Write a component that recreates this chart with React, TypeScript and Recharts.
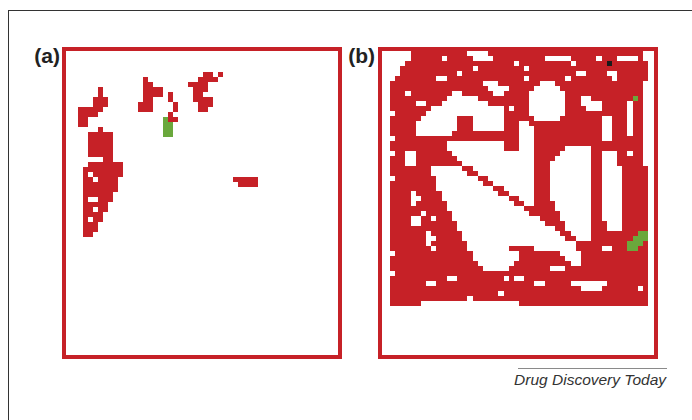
import React from 'react';
import { ScatterChart, Scatter, XAxis, YAxis } from 'recharts';

// Lattice size (cells)
const GRID_COLS = 50;
const GRID_ROWS = 51;

// Panel (a): '#' red cell, 'g' green cell, '.' empty (groups of 10 columns)
const PANEL_A_ROWS: string[] = [
  ".......... .......... .......... ..........",
  ".......... .......... .......... ..........",
  ".......... .......... .......... ..........",
  ".......... .......... .......... ..........",
  ".......... .......... .....##.#. ..........",
  ".......... ...#...... ....####.. ..........",
  ".......... ...##..... ..####.... ..........",
  "....#..... ...####... ...###.... ..........",
  "....#..... ...####.#. ...##..... ..........",
  "...###.... ...##...#. ...####... ..........",
  "...###.... ..###....# ....###... ..........",
  "#####..... ..###....# ....##.... ..........",
  "####...... ........#. .......... ..........",
  "##........ .......g## .......... ..........",
  "##........ .......gg. .......... ..........",
  "....#..... .......gg. .......... ..........",
  "..#####... .......gg. .......... ..........",
  "..#####... .......... .......... ..........",
  "..#####... .......... .......... ..........",
  "..#####... .......... .......... ..........",
  "..#####... .......... .......... ..........",
  ".....##... .......... .......... ..........",
  "..#######. .......... .......... ..........",
  ".########. .......... .......... ..........",
  ".#.######. .......... .......... ..........",
  ".##.####.. .......... .......... .#####....",
  ".#######.. .......... .......... ..####....",
  ".#######.. .......... .......... ..........",
  ".######... .......... .......... ..........",
  ".#..###... .......... .......... ..........",
  ".#####.... .......... .......... ..........",
  ".##.##.... .......... .......... ..........",
  ".####..... .......... .......... ..........",
  ".#.##..... .......... .......... ..........",
  ".###...... .......... .......... ..........",
  ".###...... .......... .......... ..........",
  ".##....... .......... .......... ..........",
];

// Panel (b): '#' red, 'g' green, 'k' black, '.' empty
const PANEL_B_ROWS: string[] = [
  "....###### #####....# ########## ########## #########.",
  "....###### .#####.... ########## .....##### .###....#.",
  "...####### ########## ####.##### #####.#### ##k#######",
  "..######## ######.### ######.### ########## ##########",
  "..######## ###.###### ########## ######..## ##..######",
  ".########. .######### ######.### ####.##### ###.######",
  "########## ########.. .########. ..######## #########.",
  "########## #########. ...#####.. ...####### #########.",
  "###.###### ##..###### ..#####... ....###### #########.",
  "########## #......### #######... ....###..# #######g#.",
  "#####..### .........# #######... ....###... .#####.##.",
  "########.. .......... ..#.###... ....####.. .#####.##.",
  ".######... .......... ..#####... ....###### ######.##.",
  "######.... ...###.... ..######.. ...####### #..###.##.",
  "#####..... ...###.... ..###..### ########## #..###.##.",
  "#####..... ...###.... ..###...## ########## #..###.##.",
  "#####..... ..######## #####...## ########## #..###.##.",
  ".######### ########## #####...## ########## #..######.",
  "########## #......... ..###...## ########## #########.",
  "########## #......... ..###...## ####.....# #########.",
  ".##..##### ##........ ........## ###......# #...##.##.",
  "###..##### ###....... ........## ##.......# #...#####.",
  "###..##### ####...... ........## #........# #...#####.",
  "########.. ....##.... ........## #........# #....#####",
  "########.. .....##... ........## #........# #....#####",
  ".########. .......##. ........## #........# #....#####",
  "#########. ........## ........## #........# #....#####",
  "#########. .......... ##......## #........# #....#####",
  "####.##### .......... .##.....## #........# #....#####",
  "####..#### .......... ...##...## #........# #....#####",
  "####.##### #......... ....##..## ##.......# #....#####",
  "########## #......... ......#### ##.......# #....#####",
  "######.### ##........ .......### ###......# #....#####",
  "####..##.# ##........ .........# ###......# #....#####",
  "####..#### ###....... .......... ####.....# ##...#####",
  "########## ###....... .......... ..##.....# ##...#####",
  "#######.## ####...... .......... ...##....# ########gg",
  "#######..# ####...... .......... ....##...# #######ggg",
  "#######.## #####..... .......... ......#### ######ggg#",
  "########.# #####..... ...#####.. ......#### #..###gg##",
  ".######### ######.... .....##### ###....### ##########",
  "########## ######.... .....##### ####...### ##########",
  "########## #######... ....###### #####..### ##########",
  "########## ########.. ...####### #...###### ##########",
  ".######### ########## ########## ########## ##########",
  "########## #..####### ##.#..#### ########## ##########",
  "#######..# ########## ########.. #####..... ..########",
  "########## ########## ########## #######... .#######.#",
  "########## ########## #.######## ########## ##########",
  "########## #####.#### ########## ########## ##########",
  "######.... .......... .....##### ########## ##########",
];

const PANEL_LABELS = ['(a)', '(b)'];
const SOURCE_TEXT = 'Drug Discovery Today';

const RED = '#c62127';
const GREEN = '#6aa83c';
const BLACK = '#1a1a1a';
const FONT = '"Liberation Sans", Arial, Helvetica, sans-serif';

type Pt = { x: number; y: number };

function cellsOf(rows: string[], ch: string): Pt[] {
  const out: Pt[] = [];
  rows.forEach((row, r) => {
    row
      .replace(/ /g, '')
      .split('')
      .forEach((c, i) => {
        if (c === ch) out.push({ x: i + 0.5, y: r + 0.5 });
      });
  });
  return out;
}

const makeShape = (fill: string, cw: number, ch: number) => (props: any) => {
  const { cx, cy } = props;
  if (cx == null || cy == null) return <g />;
  return (
    <rect
      x={cx - cw / 2}
      y={cy - ch / 2}
      width={cw}
      height={ch}
      fill={fill}
      shapeRendering="crispEdges"
    />
  );
};

function GridPanel({
  rows,
  left,
  top,
  cellW,
  cellH,
}: {
  rows: string[];
  left: number;
  top: number;
  cellW: number;
  cellH: number;
}) {
  const red = cellsOf(rows, '#');
  const green = cellsOf(rows, 'g');
  const black = cellsOf(rows, 'k');
  return (
    <div style={{ position: 'absolute', left, top }}>
      <ScatterChart
        width={GRID_COLS * cellW}
        height={GRID_ROWS * cellH}
        margin={{ top: 0, right: 0, bottom: 0, left: 0 }}
      >
        <XAxis type="number" dataKey="x" domain={[0, GRID_COLS]} hide />
        <YAxis type="number" dataKey="y" domain={[0, GRID_ROWS]} reversed hide />
        <Scatter data={red} shape={makeShape(RED, cellW, cellH)} isAnimationActive={false} />
        <Scatter data={green} shape={makeShape(GREEN, cellW, cellH)} isAnimationActive={false} />
        <Scatter data={black} shape={makeShape(BLACK, cellW, cellH)} isAnimationActive={false} />
      </ScatterChart>
    </div>
  );
}

const boxStyle = (left: number): React.CSSProperties => ({
  position: 'absolute',
  left,
  top: 47,
  width: 280,
  height: 312,
  border: `4px solid ${RED}`,
  boxSizing: 'border-box',
});

export default function App() {
  return (
    <div
      style={{
        position: 'absolute',
        left: 0,
        top: 0,
        width: 692,
        height: 420,
        background: '#fff',
        overflow: 'hidden',
        fontFamily: FONT,
      }}
    >
      <svg width={692} height={420} style={{ position: 'absolute', left: 0, top: 0 }}>
        <line x1={8} y1={10.5} x2={692} y2={10.5} stroke="#333" strokeWidth={1} />
        <line x1={8.5} y1={10} x2={8.5} y2={420} stroke="#333" strokeWidth={1} />
        <text x={60} y={63} textAnchor="end" fontWeight="bold" fontSize={21} fill="#222" fontFamily={FONT}>
          {PANEL_LABELS[0]}
        </text>
        <text x={375} y={63} textAnchor="end" fontWeight="bold" fontSize={21} fill="#222" fontFamily={FONT}>
          {PANEL_LABELS[1]}
        </text>
        <line x1={518} y1={368.5} x2={667} y2={368.5} stroke="#8a8a8a" strokeWidth={1} />
        <text x={666} y={385} textAnchor="end" fontStyle="italic" fontSize={15.5} fill="#333" fontFamily={FONT}>
          {SOURCE_TEXT}
        </text>
      </svg>
      <div style={boxStyle(62)} />
      <div style={boxStyle(378)} />
      <GridPanel rows={PANEL_A_ROWS} left={78} top={52} cellW={5} cellH={5} />
      <GridPanel rows={PANEL_B_ROWS} left={390} top={51} cellW={5.16} cellH={5} />
    </div>
  );
}
